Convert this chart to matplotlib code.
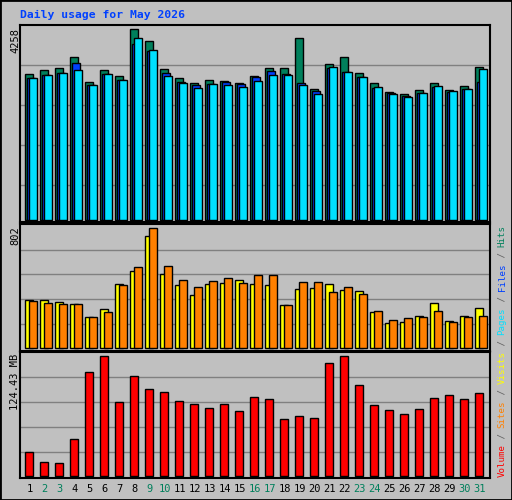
import numpy as np
import matplotlib.pyplot as plt

days = list(range(1, 32))
weekend = [2, 3, 9, 10, 16, 17, 23, 24, 30, 31]

hits = [3247, 3336, 3381, 3626, 3069, 3336, 3202, 4258, 3982, 3358, 3158, 3046, 3113, 3091, 3046, 3202,
        3381, 3381, 4049, 2913, 3470, 3626, 3269, 3046, 2846, 2801, 2890, 3046, 2890, 2979, 3403]
files = [3158, 3225, 3269, 3492, 3009, 3247, 3113, 3923, 3760, 3269, 3069, 3002, 3024, 3069, 3024, 3180,
         3314, 3247, 3046, 2868, 3381, 3291, 3180, 2935, 2823, 2757, 2823, 2957, 2846, 2913, 3069]
pages = [3158, 3225, 3269, 3336, 3002, 3247, 3113, 4049, 3782, 3202, 3046, 2935, 3024, 3002, 2957, 3091,
         3225, 3225, 3002, 2801, 3403, 3291, 3180, 2957, 2801, 2734, 2823, 2979, 2868, 2913, 3358]
visits = [323, 323, 310, 294, 207, 261, 430, 517, 751, 495, 423, 354, 430, 437, 455, 430,
          423, 287, 397, 403, 430, 390, 383, 243, 167, 176, 216, 301, 183, 216, 270]
sites = [316, 303, 294, 294, 207, 241, 423, 541, 802, 548, 455, 408, 448, 468, 437, 490,
         490, 287, 443, 443, 377, 408, 363, 250, 189, 201, 209, 250, 176, 209, 216]
volume = [24.3, 13.9, 12.8, 37.8, 107.4, 124.43, 76.3, 103.3, 89.8, 86.7, 77.3, 74.2, 70.0, 74.2, 66.9, 81.5,
          79.4, 58.6, 61.7, 59.6, 116.8, 124.4, 93.9, 73.1, 67.9, 63.8, 69.0, 80.4, 83.5, 79.4, 85.6]

W, H = 512, 500
BG = '#C0C0C0'
GRID = '#808080'
fig = plt.figure(figsize=(W / 100, H / 100), dpi=100, facecolor=BG)


def add_panel(y0, y1):
    ax = fig.add_axes([20 / W, 1 - y1 / H, 470 / W, (y1 - y0) / H])
    ax.set_facecolor(BG)
    ax.set_xlim(20, 490)
    for s in ax.spines.values():
        s.set_color('black')
        s.set_linewidth(1.5)
    ax.set_xticks([])
    ax.set_yticks([])
    return ax


x = 25.3 + 15 * np.arange(31)
kw = dict(align='edge', edgecolor='black', linewidth=1)

ax1 = add_panel(25, 222)
ax1.set_ylim(-45, 4347)
for g in [3455, 2563, 1672, 780]:
    ax1.axhline(g, color=GRID, lw=1, zorder=0)
ax1.bar(x, hits, width=7.3, color='#00805C', **kw)
ax1.bar(x + 2, files, width=7.3, color='#0040FF', **kw)
ax1.bar(x + 3.7, pages, width=7.6, color='#00E0FF', **kw)

ax2 = add_panel(224, 351)
ax2.set_ylim(-18, 831)
for g in [660, 497, 327, 162]:
    ax2.axhline(g, color=GRID, lw=1, zorder=0)
ax2.bar(x, visits, width=8, color='#FFFF00', **kw)
ax2.bar(x + 3.7, sites, width=7.6, color='#FF8000', **kw)

ax3 = add_panel(352, 478)
ax3.set_ylim(-2.4, 128.6)
for g in [102.3, 76.3, 50.3, 24.3]:
    ax3.axhline(g, color=GRID, lw=1, zorder=0)
ax3.bar(x, volume, width=7.3, color='#FF0000', **kw)

for d in days:
    col = '#00805C' if d in weekend else 'black'
    fig.text((x[d - 1] + 4.5) / W, 1 - 489 / H, str(d), color=col, ha='center', va='center',
             family='DejaVu Sans Mono', fontsize=7.5)

fig.text(20 / W, 1 - 15 / H, 'Daily usage for May 2026', color='#0040FF', fontweight='bold',
         family='DejaVu Sans Mono', fontsize=8.2, ha='left', va='center')

for label, ytop in [('4258', 28), ('802', 226), ('124.43 MB', 354)]:
    fig.text(15 / W, 1 - ytop / H, label, rotation=90, ha='center', va='top',
             family='DejaVu Sans Mono', fontsize=7.5)

parts = [('Volume', '#FF0000'), (' / ', '#606060'), ('Sites', '#FF8000'), (' / ', '#606060'),
         ('Visits', '#FFFF00'), (' / ', '#606060'), ('Pages', '#00E0FF'), (' / ', '#606060'),
         ('Files', '#0040FF'), (' / ', '#606060'), ('Hits', '#00805C')]
cw = 5.48
ypos = 477
for txt, col in parts:
    fig.text(502 / W, 1 - ypos / H, txt, rotation=90, color=col, ha='center', va='bottom',
             family='DejaVu Sans Mono', fontsize=6.6)
    ypos -= cw * len(txt)

# outer frame
fig.add_artist(plt.Rectangle((0, 0), 1, 1, transform=fig.transFigure, fill=False,
                             edgecolor='black', linewidth=2))

fig.savefig('out.png', dpi=100, facecolor=BG)
